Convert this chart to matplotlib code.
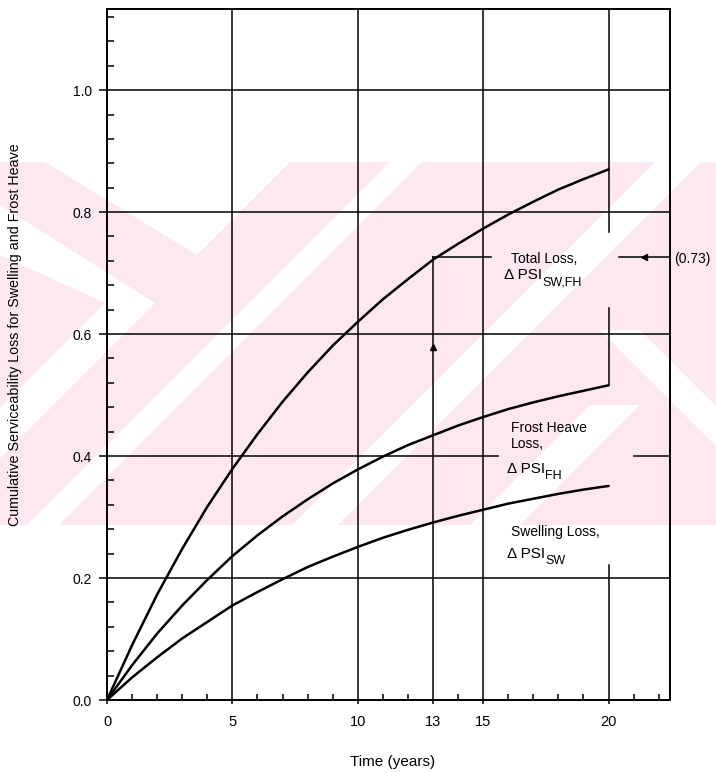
import matplotlib
matplotlib.use('Agg')
import matplotlib.pyplot as plt
from matplotlib.patches import Polygon, Rectangle
from matplotlib.ticker import MultipleLocator, FixedLocator

plt.rcParams['font.family'] = ['Liberation Sans', 'DejaVu Sans']

# data
years = [0, 1, 2, 3, 4, 5, 6, 7, 8, 9, 10, 11, 12, 13, 14, 15, 16, 17, 18, 19, 20]
total_loss = [0, 0.090, 0.173, 0.248, 0.317, 0.379, 0.436, 0.489, 0.537, 0.581, 0.620,
              0.657, 0.690, 0.722, 0.748, 0.773, 0.796, 0.817, 0.837, 0.854, 0.870]
frost_loss = [0, 0.057, 0.109, 0.155, 0.197, 0.236, 0.270, 0.301, 0.329, 0.355, 0.378,
              0.399, 0.418, 0.434, 0.450, 0.464, 0.477, 0.488, 0.498, 0.507, 0.516]
swell_loss = [0, 0.037, 0.070, 0.101, 0.128, 0.155, 0.177, 0.198, 0.218, 0.235, 0.251,
              0.266, 0.279, 0.291, 0.302, 0.312, 0.322, 0.330, 0.338, 0.345, 0.351]

design_year = 13
design_loss = 0.726
x_ticks = [0, 5, 10, 13, 15, 20]
y_ticks = [0.0, 0.2, 0.4, 0.6, 0.8, 1.0]
y_labels = ['0.0', '0.2', '0.4', '0.6', '0.8', '1.0']

W, H = 716, 773
fig = plt.figure(figsize=(W / 100, H / 100), dpi=100)

# faint pink watermark of the scan (pixel coordinates)
bg = fig.add_axes([0, 0, 1, 1], zorder=-1)
bg.set_xlim(0, W)
bg.set_ylim(H, 0)
bg.axis('off')
pink = '#fde9ed'
top, bot = 162, 525
bg.add_patch(Rectangle((0, top), W, bot - top, color=pink, lw=0))


def stripe(pts):
    bg.add_patch(Polygon(pts, closed=True, color='white', lw=0))


# white notch at the top left
stripe([(45, top), (290, top), (197, 255)])
# white ">" chevron at the far left
stripe([(0, 205), (155, 303), (0, 458), (0, 408), (105, 303), (0, 255)])
# "/" stripes across the whole band
for xb, w in [(27, 32), (292, 46)]:
    stripe([(xb, bot), (xb + w, bot), (xb + w + bot - top, top), (xb + bot - top, top)])
# "\" stripes at the lower right
stripe([(600, 330), (640, 330), (835, bot), (795, bot)])
stripe([(470, bot), (520, bot), (640, 405), (590, 405)])
bg.add_patch(Rectangle((0, 0), W, top, color='white', lw=0))
bg.add_patch(Rectangle((0, bot), W, H - bot, color='white', lw=0))

ax = fig.add_axes([107 / W, 1 - 700 / H, (670 - 107) / W, (700 - 9) / H])
ax.set_facecolor('none')
xmax, ymax = 22.45, 1.133
ax.set_xlim(0, xmax)
ax.set_ylim(0, ymax)

lw_grid = 1.1
k = 'black'
# grid lines, broken where the labels sit
for yv in [0.2, 0.6, 0.8, 1.0]:
    ax.plot([0, xmax], [yv, yv], color=k, lw=lw_grid)
ax.plot([0, 15.6], [0.4, 0.4], color=k, lw=lw_grid)
ax.plot([21.0, xmax], [0.4, 0.4], color=k, lw=lw_grid)
for xv in [5, 10, 15]:
    ax.plot([xv, xv], [0, ymax], color=k, lw=lw_grid)
for y0, y1 in [(0, 0.221), (0.516, 0.643), (0.767, ymax)]:
    ax.plot([20, 20], [y0, y1], color=k, lw=lw_grid)

# design-period reading at 13 years
ax.plot([design_year, design_year], [0, design_loss], color=k, lw=lw_grid)
ax.plot([design_year, 15.3], [design_loss, design_loss], color=k, lw=lw_grid)
ax.plot([20.4, xmax], [design_loss, design_loss], color=k, lw=lw_grid)
ax.plot([21.4], [design_loss], marker='<', color=k, ms=5)
ax.plot([design_year], [0.579], marker='^', color=k, ms=4)

# curves
for ys in (total_loss, frost_loss, swell_loss):
    ax.plot(years, ys, color=k, lw=1.8, solid_capstyle='round', solid_joinstyle='round')

fs = 10


def delta_label(x, y, sub):
    t = ax.text(x, y, '\u0394 PSI', fontsize=fs + 1)
    ax.annotate(sub, xy=(1, 0.1), xycoords=t, xytext=(0, -1),
                textcoords='offset points', fontsize=fs - 1, va='center')


ax.text(16.1, 0.716, 'Total Loss,', fontsize=fs)
delta_label(15.85, 0.690, 'SW,FH')
ax.text(16.1, 0.440, 'Frost Heave', fontsize=fs)
ax.text(16.1, 0.414, 'Loss,', fontsize=fs)
delta_label(15.95, 0.372, 'FH')
ax.text(16.1, 0.269, 'Swelling Loss,', fontsize=fs)
delta_label(15.95, 0.233, 'SW')
ax.text(22.6, 0.716, '(0.73)', fontsize=fs, clip_on=False)

for s in ax.spines.values():
    s.set_linewidth(1.4)

ax.xaxis.set_major_locator(FixedLocator(x_ticks))
ax.set_xticklabels([str(v) for v in x_ticks])
ax.xaxis.set_minor_locator(MultipleLocator(1))
ax.yaxis.set_major_locator(FixedLocator(y_ticks))
ax.set_yticklabels(y_labels)
ax.yaxis.set_minor_locator(MultipleLocator(0.04))
ax.tick_params(axis='x', which='major', direction='out', length=3, width=1.1,
               pad=8, labelsize=10.5)
ax.tick_params(axis='x', which='minor', direction='in', length=4, width=1.1)
ax.tick_params(axis='y', which='major', direction='out', length=6, width=1.1,
               pad=5, labelsize=10)
ax.tick_params(axis='y', which='minor', direction='in', length=5, width=1.1)

fig.text(15 / W, 1 - 335 / H,
         'Cumulative Serviceability Loss for Swelling and Frost Heave',
         rotation=90, ha='center', va='center', fontsize=10.3)
fig.text(393 / W, 1 - 762 / H, 'Time (years)', ha='center', va='center',
         fontsize=11)

fig.savefig('out.png', dpi=100)
